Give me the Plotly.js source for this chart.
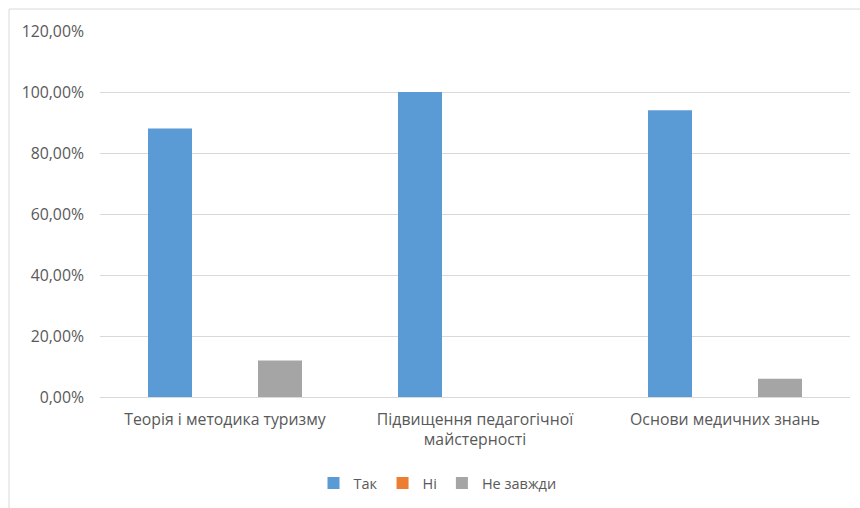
<!DOCTYPE html>
<html>
<head>
<meta charset="utf-8">
<script src="https://cdn.plot.ly/plotly-3.0.1.min.js"></script>
<style>html,body{margin:0;padding:0;background:#fff;}#chart{width:860px;height:508px;}</style>
</head>
<body>
<div id="chart"></div>
<script>
const categories = ["Теорія і методика туризму", "Підвищення педагогічної<br>майстерності", "Основи медичних знань"];
const seriesNames = ["Так", "Ні", "Не завжди"];
const tak = [0.88, 1.00, 0.94];
const ni = [0, 0, 0];
const neZavzhdy = [0.12, 0, 0.06];
const colors = ["#5B9BD5", "#ED7D31", "#A5A5A5"];

const values = [tak, ni, neZavzhdy];
const traces = values.map((v, i) => ({
  type: "bar",
  name: seriesNames[i],
  x: categories,
  y: v,
  marker: {color: colors[i]},
  hoverinfo: "none"
}));

const layout = {
  width: 860, height: 508,
  margin: {l: 100, r: 10, t: 31, b: 110},
  paper_bgcolor: "#fff", plot_bgcolor: "#fff",
  separators: ",.",
  font: {family: "Open Sans, Liberation Sans, sans-serif", color: "#595959", size: 15},
  barmode: "group",
  bargap: 0.34,
  bargroupgap: 0.2,
  showlegend: true,
  legend: {orientation: "h", x: 0.45, xanchor: "center", y: -0.232, yanchor: "middle",
           font: {size: 14.5, color: "#595959"}, itemwidth: 30, traceorder: "normal"},
  xaxis: {showgrid: false, showline: false, ticks: "", tickfont: {size: 15.8, color: "#595959"}, zeroline: false,
          ticklabelstandoff: 11},
  yaxis: {range: [0, 1.2], dtick: 0.2, tick0: 0, tickformat: ".2%", gridcolor: "#d9d9d9", gridwidth: 1,
          zeroline: true, zerolinecolor: "#d9d9d9", zerolinewidth: 1, showline: false, ticks: "",
          ticklabelstandoff: 15, tickfont: {size: 15.8, color: "#595959"}},
  shapes: [{type: "rect", xref: "paper", yref: "paper", x0: -0.1213, x1: 1.3, y0: -0.5, y1: 1.06,
            line: {color: "#d9d9d9", width: 1}, fillcolor: "rgba(0,0,0,0)", layer: "below"}]
};

Plotly.newPlot("chart", traces, layout, {staticPlot: true, displayModeBar: false});
</script>
</body>
</html>
